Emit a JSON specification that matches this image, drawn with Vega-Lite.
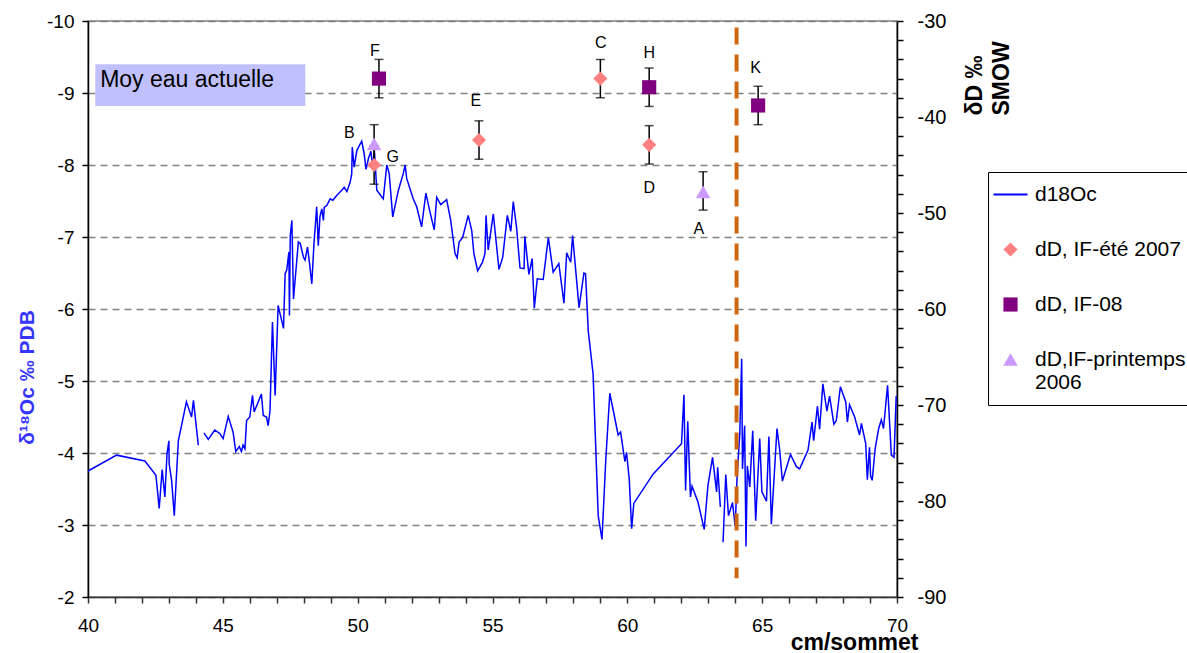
{
  "$schema": "https://vega.github.io/schema/vega-lite/v6.json",
  "width": 809,
  "height": 576,
  "autosize": {"type": "none"},
  "padding": {"left": 88, "top": 21, "right": 290, "bottom": 56},
  "background": "white",
  "config": {
    "font": "Liberation Sans",
    "view": {"stroke": "#808080", "strokeWidth": 1.5},
    "legend": {
      "orient": "none",
      "legendX": 900,
      "legendY": 151,
      "strokeColor": "black",
      "fillColor": "white",
      "padding": 12,
      "labelFont": "Liberation Sans",
      "labelFontSize": 21,
      "labelColor": "black",
      "labelLimit": 400,
      "labelOffset": 14,
      "rowPadding": 33
    }
  },
  "datasets": {
    "line": [
      {"x": 40.0, "y": -3.75, "s": 1}, {"x": 41.06, "y": -3.97, "s": 1}, {"x": 42.11, "y": -3.89, "s": 1},
      {"x": 42.52, "y": -3.69, "s": 1}, {"x": 42.64, "y": -3.23, "s": 1}, {"x": 42.75, "y": -3.77, "s": 1},
      {"x": 42.85, "y": -3.39, "s": 1}, {"x": 42.93, "y": -3.99, "s": 1}, {"x": 43.0, "y": -4.17, "s": 1},
      {"x": 43.01, "y": -3.85, "s": 1}, {"x": 43.1, "y": -3.62, "s": 1}, {"x": 43.2, "y": -3.13, "s": 1},
      {"x": 43.35, "y": -4.17, "s": 1}, {"x": 43.65, "y": -4.71, "s": 1}, {"x": 43.84, "y": -4.5, "s": 1},
      {"x": 43.91, "y": -4.73, "s": 1}, {"x": 44.09, "y": -4.11, "s": 1},
      {"x": 44.3, "y": -4.28, "s": 2}, {"x": 44.46, "y": -4.19, "s": 2}, {"x": 44.7, "y": -4.32, "s": 2},
      {"x": 44.89, "y": -4.27, "s": 2}, {"x": 45.01, "y": -4.2, "s": 2}, {"x": 45.2, "y": -4.51, "s": 2},
      {"x": 45.38, "y": -4.29, "s": 2}, {"x": 45.48, "y": -4.02, "s": 2}, {"x": 45.61, "y": -4.09, "s": 2},
      {"x": 45.69, "y": -4.02, "s": 2}, {"x": 45.75, "y": -4.11, "s": 2}, {"x": 45.82, "y": -4.06, "s": 2},
      {"x": 45.88, "y": -4.45, "s": 2}, {"x": 46.0, "y": -4.5, "s": 2}, {"x": 46.1, "y": -4.8, "s": 2},
      {"x": 46.16, "y": -4.57, "s": 2}, {"x": 46.43, "y": -4.82, "s": 2}, {"x": 46.5, "y": -4.52, "s": 2},
      {"x": 46.62, "y": -4.5, "s": 2}, {"x": 46.68, "y": -4.38, "s": 2}, {"x": 46.75, "y": -4.59, "s": 2},
      {"x": 46.84, "y": -5.82, "s": 2}, {"x": 46.94, "y": -4.8, "s": 2}, {"x": 47.05, "y": -6.05, "s": 2},
      {"x": 47.25, "y": -5.73, "s": 2}, {"x": 47.31, "y": -6.49, "s": 2}, {"x": 47.37, "y": -6.54, "s": 2},
      {"x": 47.45, "y": -6.79, "s": 2}, {"x": 47.47, "y": -5.91, "s": 2}, {"x": 47.5, "y": -7.02, "s": 2},
      {"x": 47.56, "y": -7.23, "s": 2}, {"x": 47.62, "y": -6.14, "s": 2}, {"x": 47.8, "y": -6.93, "s": 2},
      {"x": 47.87, "y": -6.91, "s": 2}, {"x": 47.99, "y": -6.72, "s": 2}, {"x": 48.05, "y": -6.68, "s": 2},
      {"x": 48.14, "y": -6.86, "s": 2}, {"x": 48.21, "y": -6.65, "s": 2}, {"x": 48.3, "y": -6.35, "s": 2},
      {"x": 48.38, "y": -6.91, "s": 2}, {"x": 48.48, "y": -7.42, "s": 2}, {"x": 48.54, "y": -6.88, "s": 2},
      {"x": 48.6, "y": -7.28, "s": 2}, {"x": 48.67, "y": -7.39, "s": 2}, {"x": 48.73, "y": -7.23, "s": 2},
      {"x": 48.76, "y": -7.41, "s": 2}, {"x": 48.86, "y": -7.44, "s": 2}, {"x": 48.98, "y": -7.53, "s": 2},
      {"x": 49.08, "y": -7.51, "s": 2}, {"x": 49.23, "y": -7.58, "s": 2}, {"x": 49.41, "y": -7.65, "s": 2},
      {"x": 49.5, "y": -7.69, "s": 2}, {"x": 49.6, "y": -7.63, "s": 2}, {"x": 49.72, "y": -7.76, "s": 2},
      {"x": 49.78, "y": -7.88, "s": 2}, {"x": 49.8, "y": -8.25, "s": 2}, {"x": 49.87, "y": -7.97, "s": 2},
      {"x": 49.97, "y": -8.2, "s": 2}, {"x": 50.06, "y": -8.27, "s": 2}, {"x": 50.15, "y": -8.33, "s": 2},
      {"x": 50.24, "y": -8.16, "s": 2}, {"x": 50.31, "y": -7.94, "s": 2}, {"x": 50.4, "y": -8.09, "s": 2},
      {"x": 50.49, "y": -8.19, "s": 2}, {"x": 50.56, "y": -7.97, "s": 2}, {"x": 50.62, "y": -8.2, "s": 2},
      {"x": 50.71, "y": -7.65, "s": 2}, {"x": 50.89, "y": -7.56, "s": 2}, {"x": 50.95, "y": -7.53, "s": 2},
      {"x": 51.08, "y": -8.0, "s": 2}, {"x": 51.17, "y": -7.88, "s": 2}, {"x": 51.3, "y": -7.28, "s": 2},
      {"x": 51.51, "y": -7.65, "s": 2}, {"x": 51.69, "y": -7.88, "s": 2}, {"x": 51.76, "y": -8.0, "s": 2},
      {"x": 51.82, "y": -7.81, "s": 2}, {"x": 52.06, "y": -7.53, "s": 2}, {"x": 52.19, "y": -7.42, "s": 2},
      {"x": 52.37, "y": -7.14, "s": 2}, {"x": 52.53, "y": -7.61, "s": 2}, {"x": 52.68, "y": -7.35, "s": 2},
      {"x": 52.84, "y": -7.1, "s": 2}, {"x": 52.93, "y": -7.55, "s": 2}, {"x": 53.08, "y": -7.45, "s": 2},
      {"x": 53.3, "y": -7.52, "s": 2}, {"x": 53.45, "y": -7.23, "s": 2}, {"x": 53.61, "y": -6.77, "s": 2},
      {"x": 53.69, "y": -6.71, "s": 2}, {"x": 53.76, "y": -6.93, "s": 2}, {"x": 53.89, "y": -6.99, "s": 2},
      {"x": 54.1, "y": -7.3, "s": 2}, {"x": 54.23, "y": -7.09, "s": 2}, {"x": 54.31, "y": -6.77, "s": 2},
      {"x": 54.45, "y": -6.53, "s": 2}, {"x": 54.63, "y": -6.65, "s": 2}, {"x": 54.72, "y": -6.77, "s": 2},
      {"x": 54.76, "y": -7.3, "s": 2}, {"x": 54.84, "y": -6.82, "s": 2}, {"x": 55.03, "y": -7.32, "s": 2},
      {"x": 55.24, "y": -6.55, "s": 2}, {"x": 55.38, "y": -6.72, "s": 2}, {"x": 55.55, "y": -7.3, "s": 2},
      {"x": 55.68, "y": -7.08, "s": 2}, {"x": 55.77, "y": -7.49, "s": 2}, {"x": 55.89, "y": -7.14, "s": 2},
      {"x": 56.02, "y": -6.57, "s": 2}, {"x": 56.17, "y": -6.56, "s": 2}, {"x": 56.2, "y": -7.01, "s": 2},
      {"x": 56.35, "y": -6.48, "s": 2}, {"x": 56.47, "y": -6.7, "s": 2}, {"x": 56.55, "y": -6.01, "s": 2},
      {"x": 56.66, "y": -6.42, "s": 2}, {"x": 56.88, "y": -6.41, "s": 2}, {"x": 57.07, "y": -6.99, "s": 2},
      {"x": 57.25, "y": -6.51, "s": 2}, {"x": 57.46, "y": -6.63, "s": 2}, {"x": 57.65, "y": -6.08, "s": 2},
      {"x": 57.75, "y": -6.78, "s": 2}, {"x": 57.9, "y": -6.65, "s": 2}, {"x": 57.97, "y": -7.02, "s": 2},
      {"x": 58.21, "y": -6.02, "s": 2}, {"x": 58.39, "y": -6.5, "s": 2}, {"x": 58.45, "y": -6.49, "s": 2},
      {"x": 58.55, "y": -5.7, "s": 2}, {"x": 58.73, "y": -5.1, "s": 2}, {"x": 58.92, "y": -3.13, "s": 2},
      {"x": 59.06, "y": -2.8, "s": 2}, {"x": 59.2, "y": -3.9, "s": 2}, {"x": 59.35, "y": -4.83, "s": 2},
      {"x": 59.66, "y": -4.25, "s": 2}, {"x": 59.75, "y": -4.29, "s": 2}, {"x": 59.91, "y": -3.88, "s": 2},
      {"x": 59.97, "y": -4.01, "s": 2}, {"x": 60.07, "y": -3.64, "s": 2}, {"x": 60.16, "y": -2.95, "s": 2},
      {"x": 60.24, "y": -3.3, "s": 2}, {"x": 60.96, "y": -3.71, "s": 2}, {"x": 62.01, "y": -4.13, "s": 2},
      {"x": 62.1, "y": -4.81, "s": 2}, {"x": 62.16, "y": -3.48, "s": 2}, {"x": 62.24, "y": -4.44, "s": 2},
      {"x": 62.34, "y": -3.39, "s": 2}, {"x": 62.4, "y": -3.54, "s": 2}, {"x": 62.62, "y": -3.32, "s": 2},
      {"x": 62.85, "y": -2.94, "s": 2}, {"x": 62.99, "y": -3.55, "s": 2}, {"x": 63.16, "y": -3.94, "s": 2},
      {"x": 63.31, "y": -3.46, "s": 2}, {"x": 63.35, "y": -3.8, "s": 2}, {"x": 63.45, "y": -3.25, "s": 2},
      {"x": 63.55, "y": -2.76, "s": 3}, {"x": 63.65, "y": -3.7, "s": 3}, {"x": 63.75, "y": -3.13, "s": 3},
      {"x": 63.9, "y": -3.31, "s": 3}, {"x": 64.0, "y": -2.98, "s": 3}, {"x": 64.07, "y": -3.67, "s": 3},
      {"x": 64.17, "y": -4.27, "s": 3}, {"x": 64.24, "y": -5.31, "s": 3}, {"x": 64.27, "y": -3.78, "s": 3},
      {"x": 64.35, "y": -4.38, "s": 3}, {"x": 64.4, "y": -2.7, "s": 3}, {"x": 64.45, "y": -3.82, "s": 3},
      {"x": 64.54, "y": -3.53, "s": 3}, {"x": 64.65, "y": -4.31, "s": 3}, {"x": 64.76, "y": -3.06, "s": 3},
      {"x": 64.91, "y": -4.2, "s": 3}, {"x": 64.99, "y": -3.46, "s": 3}, {"x": 65.16, "y": -3.33, "s": 3},
      {"x": 65.25, "y": -4.23, "s": 3}, {"x": 65.34, "y": -3.01, "s": 3}, {"x": 65.55, "y": -4.34, "s": 3},
      {"x": 65.65, "y": -4.04, "s": 3}, {"x": 65.75, "y": -3.61, "s": 3}, {"x": 66.05, "y": -3.98, "s": 3},
      {"x": 66.27, "y": -3.81, "s": 3}, {"x": 66.39, "y": -3.78, "s": 3}, {"x": 66.7, "y": -4.04, "s": 3},
      {"x": 66.85, "y": -4.43, "s": 3}, {"x": 66.91, "y": -4.17, "s": 3}, {"x": 67.05, "y": -4.65, "s": 3},
      {"x": 67.13, "y": -4.33, "s": 3}, {"x": 67.25, "y": -4.96, "s": 3}, {"x": 67.4, "y": -4.58, "s": 3},
      {"x": 67.5, "y": -4.79, "s": 3}, {"x": 67.66, "y": -4.4, "s": 3}, {"x": 67.75, "y": -4.45, "s": 3},
      {"x": 67.9, "y": -4.92, "s": 3}, {"x": 68.1, "y": -4.71, "s": 3}, {"x": 68.16, "y": -4.43, "s": 3},
      {"x": 68.24, "y": -4.67, "s": 3}, {"x": 68.43, "y": -4.5, "s": 3}, {"x": 68.61, "y": -4.25, "s": 3},
      {"x": 68.68, "y": -4.41, "s": 3}, {"x": 68.84, "y": -4.13, "s": 3}, {"x": 68.9, "y": -3.63, "s": 3},
      {"x": 68.98, "y": -4.08, "s": 3}, {"x": 69.02, "y": -3.68, "s": 3}, {"x": 69.08, "y": -3.62, "s": 3},
      {"x": 69.19, "y": -4.06, "s": 3}, {"x": 69.32, "y": -4.34, "s": 3}, {"x": 69.42, "y": -4.46, "s": 3},
      {"x": 69.5, "y": -4.34, "s": 3}, {"x": 69.65, "y": -4.94, "s": 3}, {"x": 69.79, "y": -3.97, "s": 3},
      {"x": 69.89, "y": -3.94, "s": 3}, {"x": 69.97, "y": -4.79, "s": 3}
    ],
    "pts": [
      {"x": 50.79, "dD": -36.0, "lo": -38.0, "hi": -34.0, "series": "dD, IF-08"},
      {"x": 50.61, "dD": -42.8, "lo": -44.8, "hi": -40.8, "series": "dD,IF-printemps 2006"},
      {"x": 50.61, "dD": -45.0, "lo": -47.0, "hi": -43.0, "series": "dD, IF-été 2007"},
      {"x": 54.5, "dD": -42.4, "lo": -44.4, "hi": -40.4, "series": "dD, IF-été 2007"},
      {"x": 59.0, "dD": -36.0, "lo": -38.0, "hi": -34.0, "series": "dD, IF-été 2007"},
      {"x": 60.81, "dD": -36.9, "lo": -38.9, "hi": -34.9, "series": "dD, IF-08"},
      {"x": 60.81, "dD": -42.9, "lo": -44.9, "hi": -40.9, "series": "dD, IF-été 2007"},
      {"x": 62.81, "dD": -47.8, "lo": -49.7, "hi": -45.7, "series": "dD,IF-printemps 2006"},
      {"x": 64.85, "dD": -38.8, "lo": -40.8, "hi": -36.8, "series": "dD, IF-08"}
    ],
    "labels": [
      {"x": 62.65, "dD": -51.7, "label": "A"},
      {"x": 49.69, "dD": -41.7, "label": "B"},
      {"x": 59.02, "dD": -32.3, "label": "C"},
      {"x": 60.81, "dD": -47.4, "label": "D"},
      {"x": 54.38, "dD": -38.3, "label": "E"},
      {"x": 50.64, "dD": -33.1, "label": "F"},
      {"x": 51.3, "dD": -44.2, "label": "G"},
      {"x": 60.81, "dD": -33.3, "label": "H"},
      {"x": 64.76, "dD": -34.9, "label": "K"}
    ],
    "box": [{"x": 40.27, "x2": 48.06, "y": -9.4, "y2": -8.82, "text": "Moy eau actuelle", "tx": 40.45, "ty": -9.18}],
    "vline": [{"x": 64.05, "y": -9.91, "y2": -2.26}]
  },
  "layer": [
    {
      "layer": [
        {
          "data": {"name": "box"},
          "mark": {"type": "rect", "fill": "#C0C0FF"},
          "encoding": {
            "x": {"field": "x", "type": "quantitative", "scale": {"domain": [40, 70]},
              "axis": {
                "values": [40,41,42,43,44,45,46,47,48,49,50,51,52,53,54,55,56,57,58,59,60,61,62,63,64,65,66,67,68,69,70],
                "tickCount": 200,
                "labelExpr": "datum.value % 5 === 0 ? '' + datum.value : ''",
                "labelOverlap": false, "labelFlush": false, "labelBound": false,
                "labelFontSize": 19, "labelColor": "black", "labelPadding": 13,
                "domainColor": "#333333", "domainWidth": 1.5,
                "tickColor": "#333333", "tickWidth": 1.5, "tickSize": 6,
                "grid": false,
                "title": "cm/sommet", "titleFontSize": 23, "titleFontWeight": "bold", "titleColor": "black",
                "titleAnchor": "end", "titleAlign": "right", "titleX": 830, "titleY": 52, "titleBaseline": "alphabetic",
                "encode": {"ticks": {"update": {"y": {"signal": "datum.value % 5 === 0 ? -6 : 0"}}}}
              }},
            "x2": {"field": "x2"},
            "y": {"field": "y", "type": "quantitative",
              "scale": {"domain": [-10, -2], "reverse": true},
              "axis": {
                "orient": "left",
                "values": [-10,-9,-8,-7,-6,-5,-4,-3,-2],
                "tickCount": 100,
                "labelExpr": "'' + datum.value",
                "labelOverlap": false, "labelFlush": false, "labelBound": false,
                "labelFontSize": 19, "labelColor": "black", "labelPadding": 8,
                "domainColor": "black", "domainWidth": 1.5,
                "tickColor": "black", "tickWidth": 1.5, "tickSize": 6,
                "grid": true, "gridColor": "#808080", "gridDash": [7, 5], "gridWidth": 1.5, "gridOpacity": 1,
                "title": "δ¹⁸Oc ‰ PDB", "titleColor": "#3535FF", "titleFontSize": 21, "titleFontWeight": "bold",
                "titleAngle": -90, "titleX": -61, "titleY": 356, "titleAlign": "center", "titleBaseline": "middle"
              }},
            "y2": {"field": "y2"}
          }
        },
        {
          "data": {"name": "box"},
          "mark": {"type": "text", "align": "left", "baseline": "middle", "fontSize": 23, "color": "black"},
          "encoding": {
            "x": {"field": "tx", "type": "quantitative"},
            "y": {"field": "ty", "type": "quantitative"},
            "text": {"field": "text"}
          }
        },
        {
          "data": {"name": "line"},
          "mark": {"type": "line", "strokeWidth": 1.5},
          "encoding": {
            "x": {"field": "x", "type": "quantitative"},
            "y": {"field": "y", "type": "quantitative"},
            "detail": {"field": "s", "type": "nominal"},
            "order": {"field": "x", "type": "quantitative"},
            "color": {"datum": "d18Oc", "type": "nominal",
              "scale": {"domain": ["d18Oc", "dD, IF-été 2007", "dD, IF-08", "dD,IF-printemps 2006"],
                        "range": ["#0000FF", "#FF8080", "#800080", "#CC99FF"]},
              "legend": {"title": null,
                "labelExpr": "datum.label == 'dD,IF-printemps 2006' ? ['dD,IF-printemps', '2006'] : datum.label",
                "encode": {"symbols": {"update": {"stroke": {"scale": "color", "field": "value"},
                  "strokeWidth": {"signal": "datum.value === 'd18Oc' ? 2 : 0"}}}}}}
          }
        },
        {
          "data": {"name": "vline"},
          "mark": {"type": "rule", "color": "#CC6611", "strokeWidth": 4, "strokeDash": [17, 10]},
          "encoding": {
            "x": {"field": "x", "type": "quantitative"},
            "y": {"field": "y", "type": "quantitative"},
            "y2": {"field": "y2"}
          }
        }
      ]
    },
    {
      "layer": [
        {
          "data": {"name": "pts"},
          "mark": {"type": "rule", "color": "black", "strokeWidth": 1.5},
          "encoding": {
            "x": {"field": "x", "type": "quantitative"},
            "y": {"field": "lo", "type": "quantitative",
              "scale": {"domain": [-90, -30]},
              "axis": {
                "orient": "right",
                "values": [-90,-88,-86,-84,-82,-80,-78,-76,-74,-72,-70,-68,-66,-64,-62,-60,-58,-56,-54,-52,-50,-48,-46,-44,-42,-40,-38,-36,-34,-32,-30],
                "tickCount": 200,
                "labelExpr": "datum.value % 10 === 0 ? '' + datum.value : ''",
                "labelOverlap": false, "labelFlush": false, "labelBound": false,
                "labelFontSize": 20, "labelColor": "black", "labelPadding": 14,
                "domainColor": "black", "domainWidth": 1.5,
                "tickColor": "black", "tickWidth": 1.5, "tickSize": 6, "grid": false,
                "title": ["δD ‰", "SMOW"], "titleFontSize": 23, "titleFontWeight": "bold", "titleColor": "black",
                "titleAngle": -90, "titleX": 66, "titleY": 94, "titleAlign": "left", "titleBaseline": "top",
                "titleLineHeight": 27,
                "encode": {"ticks": {"update": {"x": {"signal": "datum.value % 10 === 0 ? -6 : 0"}}}}
              }},
            "y2": {"field": "hi"}
          }
        },
        {
          "data": {"name": "pts"},
          "mark": {"type": "tick", "orient": "horizontal", "color": "black", "size": 9, "thickness": 1.5},
          "encoding": {
            "x": {"field": "x", "type": "quantitative"},
            "y": {"field": "lo", "type": "quantitative"}
          }
        },
        {
          "data": {"name": "pts"},
          "mark": {"type": "tick", "orient": "horizontal", "color": "black", "size": 9, "thickness": 1.5},
          "encoding": {
            "x": {"field": "x", "type": "quantitative"},
            "y": {"field": "hi", "type": "quantitative"}
          }
        },
        {
          "data": {"name": "pts"},
          "mark": {"type": "point", "filled": true, "opacity": 1, "strokeWidth": 0},
          "encoding": {
            "x": {"field": "x", "type": "quantitative"},
            "y": {"field": "dD", "type": "quantitative"},
            "color": {"field": "series", "type": "nominal",
              "legend": {"title": null,
                "labelExpr": "datum.label == 'dD,IF-printemps 2006' ? ['dD,IF-printemps', '2006'] : datum.label",
                "encode": {"symbols": {"update": {"stroke": {"scale": "color", "field": "value"},
                  "strokeWidth": {"signal": "datum.value === 'd18Oc' ? 2 : 0"}}}}}},
            "shape": {"field": "series", "type": "nominal",
              "scale": {"domain": ["d18Oc", "dD, IF-été 2007", "dD, IF-08", "dD,IF-printemps 2006"],
                        "range": ["stroke", "diamond", "square", "triangle-up"]},
              "legend": {"title": null}},
            "size": {"field": "series", "type": "nominal",
              "scale": {"type": "ordinal", "domain": ["d18Oc", "dD, IF-été 2007", "dD, IF-08", "dD,IF-printemps 2006"],
                        "range": [1156, 200, 200, 210]},
              "legend": {"title": null}}
          }
        },
        {
          "data": {"name": "labels"},
          "mark": {"type": "text", "fontSize": 16, "color": "black", "align": "center", "baseline": "middle"},
          "encoding": {
            "x": {"field": "x", "type": "quantitative"},
            "y": {"field": "dD", "type": "quantitative"},
            "text": {"field": "label"}
          }
        }
      ]
    }
  ],
  "resolve": {"scale": {"y": "independent"}}
}
